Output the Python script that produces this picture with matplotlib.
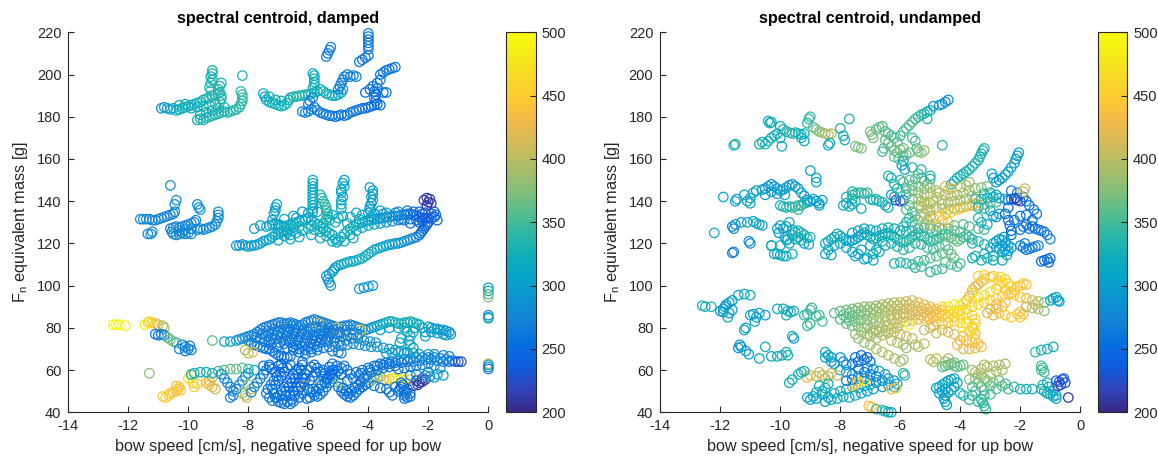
import numpy as np
import matplotlib
matplotlib.use("Agg")
import matplotlib.pyplot as plt
from matplotlib.colors import LinearSegmentedColormap, Normalize
from matplotlib.cm import ScalarMappable

plt.rcParams['font.family'] = ['Liberation Sans', 'DejaVu Sans']

# ---------------- data: (bow speed, equivalent mass, spectral centroid) ----------------
damped_top_left = [
(-10.9,184,290),(-10.8,184.5,295),(-10.7,184,300),(-10.6,183.5,305),(-10.5,184,310),(-10.4,183,315),(-10.3,183.5,318),
(-10.2,184,320),(-10.1,184.5,320),(-10.0,185,320),(-9.9,185.5,322),(-9.8,186,325),(-9.7,186.5,325),(-9.6,187,328),
(-9.5,188,330),(-9.4,188.5,330),(-9.3,189,332),(-9.2,190,335),(-9.1,190.5,335),(-9.0,191,333),(-9.25,192.5,335),
(-9.3,194,338),(-9.25,196,335),(-9.2,197.5,332),(-9.25,199,330),(-9.2,200.5,328),(-9.2,202,325),
(-10.3,185.5,318),(-10.1,186,320),(-9.9,184,318),(-9.7,184.5,320),(-9.5,185,322),(-9.3,185.5,325),(-9.1,186,328),
(-8.95,187,330),(-8.9,188.5,332),(-8.9,190,335),(-8.95,191.5,335),(-9.0,193,335),(-8.95,194.5,333),(-8.9,196,330),
(-9.7,178.5,325),(-9.6,179,325),(-9.5,178.5,328),(-9.4,179.5,328),(-9.3,180,330),(-9.2,180.5,330),(-9.1,181,330),
(-9.0,181.5,330),(-8.9,182,332),(-8.8,182.5,333),(-8.7,182,333),(-8.6,182.5,335),(-8.5,183,335),(-8.4,183.5,335),
(-8.3,184.5,335),(-8.25,186,338),(-8.2,187.5,340),(-8.2,189,342),(-8.2,190.5,342),(-8.25,192,340),(-8.2,199.5,330),
(-9.6,181,320),(-9.4,182,322),(-9.2,183,325),(-9.0,184,328),(-8.8,184.5,330),
]

damped_top_mid = [
(-7.5,191,315),(-7.45,189.5,315),(-7.4,188,318),(-7.3,187,320),(-7.2,186.5,320),(-7.1,186,322),(-7.0,185.5,325),
(-6.9,185,325),(-6.8,185.5,325),(-6.7,186.5,328),(-6.65,188,330),(-6.6,189,330),(-6.5,189.5,332),(-6.4,189.5,332),
(-6.3,190,332),(-6.2,190,330),(-6.1,190.5,330),(-6.0,190.5,330),(-5.9,191,330),(-5.8,191.5,328),(-5.7,192,328),
(-5.6,193,328),(-5.5,192,325),(-5.4,191,322),(-5.3,190.5,320),(-5.2,190,318),(-5.1,190,315),(-5.0,190.5,312),
(-4.9,191.5,308),(-4.85,193,300),(-7.3,189.5,318),(-7.1,188,320),(-6.9,187.5,322),
(-5.85,193.5,325),(-5.8,195,325),(-5.8,196.5,322),(-5.8,198,320),(-5.8,199.5,318),(-5.85,200.5,318),
(-6.2,182.5,270),(-6.1,182,270),(-6.0,182.5,268),(-5.9,183.5,268),(-5.8,184.5,265),(-5.7,183,265),(-5.6,182,265),
(-5.5,181.5,262),(-5.4,181,262),(-5.3,180.5,262),(-5.2,180.5,262),(-5.1,180,262),(-5.0,180.5,262),(-4.9,181,262),
(-4.8,180.5,262),(-4.7,181,262),(-4.6,182,262),(-4.5,182.5,262),(-4.4,183,262),(-4.3,183.5,260),(-4.2,184,260),
(-4.1,184,258),(-4.0,184.5,255),(-3.9,185,255),(-3.8,185.5,252),(-3.7,186,250),(-3.6,185.5,250),(-3.75,187.5,252),
(-3.8,189,252),(-3.75,190.5,250),(-3.8,192,250),(-3.7,193.5,252),(-3.5,191.5,255),(-3.4,191.5,258),(-4.1,191.5,255),
(-3.95,193,255),(-3.85,194.5,258),(-3.7,196,260),(-3.6,197.5,262),(-6.0,186,270),(-5.95,187.5,270),(-5.85,189,270),
(-5.0,193,268),(-4.95,194.5,268),(-4.9,196,268),(-4.85,197.5,268),(-4.8,199,268),(-4.7,200,270),(-4.6,199,272),
(-4.5,199.5,272),(-4.4,199,272),
(-5.4,208.5,265),(-5.35,210,265),(-5.3,211.5,265),(-5.25,213,265),
(-4.3,206,262),(-4.2,207,262),(-4.1,208,262),(-4.0,209,262),
(-4.0,212,265),(-4.0,213.5,265),(-4.0,215,265),(-4.0,216.5,265),(-4.0,218,265),(-4.0,219.5,265),
(-3.6,200,262),(-3.5,201,262),(-3.4,202,262),(-3.3,202.5,262),(-3.2,203,262),(-3.1,203.5,262),
]

damped_mid_left = [
(-11.6,131.5,280),(-11.5,131.5,280),(-11.4,131.5,278),(-11.3,131.5,278),(-11.2,131,278),(-11.1,131,275),(-11.0,131.5,275),
(-10.9,132,275),(-10.8,132.5,275),(-10.7,133,275),(-10.6,133.5,275),(-10.5,134,275),(-10.45,135,275),
(-10.6,147.5,285),(-10.4,140.5,285),(-10.45,138.5,285),(-11.35,124.5,280),(-11.25,124.5,280),(-11.2,125.5,280),
(-10.6,127,278),(-10.55,125.5,278),(-10.5,124.5,278),(-10.4,124,278),(-10.3,124.5,278),(-10.2,125,278),(-10.1,124.5,278),
(-10.0,125,278),(-9.9,124.5,278),(-10.5,127.5,275),(-10.4,128,275),(-10.3,127.5,275),(-10.2,128,275),(-10.1,128.5,275),
(-10.0,129,275),(-9.9,129.5,275),(-9.8,130,275),(-9.75,131,275),(-9.7,126.5,278),(-9.6,127,278),(-9.5,126.5,278),
(-9.4,127,278),(-9.3,127.5,278),(-9.2,128,278),(-9.1,129,278),(-9.05,130.5,280),(-9.0,132,280),(-9.0,133.5,280),
(-9.0,135,280),(-9.7,138.5,285),(-9.65,137,285),(-9.6,136,285),(-10.3,126,275),(-10.1,126.5,275),(-9.9,127,275),
]

damped_mid_main = [
(-8.4,119,290),(-8.3,119,290),(-8.2,119.5,292),(-8.1,119,292),(-8.0,118.5,295),(-7.9,119,295),(-7.8,119,298),
(-7.7,119.5,298),(-7.6,120,300),(-7.5,121,300),(-7.4,121.5,302),(-7.3,122,305),(-7.2,123,305),(-7.1,124,308),
(-7.0,124.5,310),(-6.9,125.5,310),(-6.8,126,312),(-6.7,126.5,315),(-6.6,127,318),(-6.5,127.5,318),
(-7.4,128,305),(-7.3,128.5,305),(-7.2,129,305),(-7.1,129,308),(-7.0,129,310),(-6.9,128.5,312),(-6.8,128,315),
(-6.7,128.5,318),(-6.6,129,320),(-6.5,129.5,320),(-6.4,130,318),(-6.3,130.5,315),(-6.2,131,312),(-6.1,131.5,310),
(-6.0,132,310),(-5.9,131,312),(-5.8,130,315),(-5.7,129,318),(-5.6,128,320),(-5.5,127,322),(-5.4,126,322),
(-5.3,125,320),(-5.2,124,318),(-5.1,122,315),(-5.05,120.5,312),(-5.0,121.5,312),(-4.9,123,315),(-4.8,124.5,318),
(-4.7,126,320),(-4.6,127,322),(-4.5,128,322),(-4.4,129,320),(-4.3,129.5,318),(-4.2,130,315),(-4.1,130.5,312),
(-4.0,131,310),(-3.9,131,305),(-3.8,131.5,300),(-3.7,131.5,298),(-3.6,132,295),(-3.5,132,292),(-3.4,132.5,290),
(-3.3,132.5,288),(-3.2,133,285),(-3.1,133,282),(-3.0,133,280),(-2.9,133.5,275),(-2.8,133.5,270),(-2.7,134,265),
(-2.6,134,260),(-2.5,133.5,255),(-2.4,133,250),(-2.3,132.5,245),(-2.2,132,240),(-2.1,132,235),(-2.0,132,230),
(-1.9,132,232),(-1.8,132.5,240),(-1.75,133.5,250),(-1.8,135,255),(-1.9,134,240),
(-6.8,123.5,310),(-6.6,124,312),(-6.4,125,315),(-6.2,126,318),(-6.0,127,320),(-5.8,126.5,322),(-5.6,125.5,322),
(-5.4,123.5,318),(-5.2,121,315),(-4.6,124,318),(-4.4,126,320),(-4.2,127.5,318),(-4.0,128.5,312),(-3.8,129,305),
(-3.6,129.5,298),(-3.4,130,290),(-3.2,130.5,285),(-3.0,131,278),(-2.8,131,270),(-2.6,131.5,260),(-2.4,131,250),
(-2.2,130.5,240),(-2.0,130,232),(-2.5,135,255),(-2.3,135,245),(-2.1,134.5,235),(-3.0,135,280),(-3.4,134.5,290),
(-3.8,134,300),(-4.2,133.5,310),(-4.6,132.5,318),(-5.0,132,320),(-5.4,131.5,320),(-6.4,132,310),(-6.8,131.5,308),
(-7.2,131,305),(-7.6,128.5,300),(-7.8,127,298),(-6.2,135,300),(-6.0,134.5,300),(-5.7,135,305),
(-2.05,138,215),(-2.0,139.5,212),(-1.95,141,210),(-2.05,141.5,210),(-2.15,140.5,212),(-1.9,139,215),
(-7.15,134,300),(-7.1,135.5,300),(-7.1,137,300),(-7.05,138.5,300),
(-5.85,135,310),(-5.85,136.5,310),(-5.85,138,310),(-5.85,139.5,310),(-5.85,141,310),(-5.85,142.5,310),(-5.85,144,310),
(-5.85,145.5,310),(-5.85,147,310),(-5.85,148.5,310),(-5.85,150,310),
(-5.6,143,330),(-5.55,141.5,332),(-5.5,140,335),(-5.45,138.5,335),(-5.4,137,338),(-5.4,135.5,338),(-5.35,134,335),
(-5.35,132.5,332),(-5.3,131,330),
(-4.85,133,305),(-4.9,136.5,308),(-4.9,138.5,308),(-4.9,140.5,308),(-4.85,142,308),(-4.9,144,308),(-4.9,145.5,308),
(-4.8,147,308),(-4.85,148.5,308),(-4.8,150,308),
(-4.0,134.5,300),(-3.95,136,300),(-3.95,137.5,300),(-3.9,139,300),(-3.85,140.5,300),(-3.9,142,300),(-3.85,143.5,300),
(-3.85,145,300),(-3.95,146.5,300),(-3.8,134,300),
(-5.25,100,290),(-5.3,101.5,290),(-5.35,103,292),(-5.4,104.5,295),(-5.3,105.5,298),(-5.2,106.5,300),(-5.15,107.5,300),
(-5.1,108.5,302),(-5.0,109.5,305),(-4.9,110,308),(-4.8,110.5,310),(-4.7,111,312),(-4.6,111.5,315),(-4.5,111.5,315),
(-4.4,112,318),(-4.3,112.5,318),(-4.2,113,320),(-4.1,114,320),(-4.0,115,318),(-3.9,116,315),(-3.8,117,312),
(-3.7,117.5,310),(-3.6,118,308),(-3.5,118.5,305),(-3.4,119,302),(-3.3,119.5,300),(-3.2,119.5,298),(-3.1,120,295),
(-3.0,120,292),(-2.9,120.5,290),(-2.8,121,288),(-2.7,121.5,285),(-2.6,122,280),(-2.5,122.5,275),(-2.4,123,270),
(-2.3,124,265),(-2.25,125,260),(-2.2,126,255),(-2.15,127,250),(-2.1,128,245),(-2.05,129,240),
(-4.3,98.5,290),(-4.15,99,290),(-4.0,99.5,290),(-3.85,100,290),
]

damped_mid_fill = [
(-7.0,127,308),(-6.7,125,312),(-6.3,128,316),(-5.9,128.5,318),(-5.5,129.5,322),(-5.1,130,320),(-4.7,129.5,320),
(-4.3,131.5,315),(-3.9,132.5,305),(-3.5,134,295),(-3.1,134.5,285),(-2.7,135.5,265),(-6.5,133,310),(-5.2,133.5,318),
(-4.4,134.5,312),(-3.6,135.5,300),(-2.9,131.5,275),(-2.3,130,240),(-2.2,134,238),(-1.7,131,245),(-2.6,129.5,255),
(-7.0,121.5,305),(-6.6,122,310),(-6.3,123,312),(-5.9,124,318),(-5.6,122.5,320),(-4.8,121,315),(-4.5,122.5,318),
]

damped_zero_speed = [
(0,99,300),(0,97.5,320),(0,96,350),(0,94.5,380),(0,86,280),(0,85,290),(0,84.5,330),
(0,63,420),(0,62.5,300),(0,61.5,280),(0,60.5,270),
]

damped_low_left = [
(-12.5,81.5,495),(-12.4,81.5,495),(-12.3,81.5,495),(-12.1,81,490),
(-11.45,81.5,480),(-11.35,82.5,470),(-11.3,83,460),(-11.2,82.5,455),(-11.1,82,440),(-11.0,81.5,420),(-10.85,81,395),
(-10.8,80,390),(-11.1,77,260),(-11.0,76.5,258),(-10.9,77,262),(-10.8,76.5,265),(-10.7,75.5,360),(-10.6,74.5,370),
(-10.5,73.5,365),(-10.4,73,350),(-10.2,72,275),(-10.1,71,270),(-10.0,70,268),(-10.1,69,268),(-9.95,71.5,272),
(-9.9,69.5,270),(-10.3,70,272),(-11.3,58.5,380),(-9.2,74,360),
(-8.8,73.5,305),(-8.6,73.5,300),(-8.4,74,295),(-8.3,74.5,290),(-8.2,75,285),(-8.1,75.5,280),(-8.0,76,278),
(-10.85,47.5,450),(-10.75,47,455),(-10.65,48,450),(-10.6,49,445),(-10.5,49.5,440),(-10.4,50,435),(-10.35,51,440),
(-10.3,52,445),(-10.4,52.5,440),(-10.25,50.5,445),(-10.0,56,470),(-9.9,57.5,465),(-9.85,54,460),(-9.7,53.5,450),
(-9.8,52,455),(-9.4,54,430),(-9.3,53,440),(-9.2,52,430),(-9.3,55,420),(-9.1,51,410),(-9.2,56.5,400),
(-9.9,58,330),(-9.8,58.5,325),(-9.6,59,320),(-9.4,59,320),(-9.2,58.5,325),(-9.0,59.5,345),(-8.8,60,360),
(-8.6,60.5,365),(-8.4,60.5,365),(-8.2,61,360),(-8.0,60.5,340),(-7.8,60,320),
(-8.9,58,280),(-8.8,56,278),(-8.7,54,275),(-8.6,52,272),(-8.5,50,270),(-8.5,48,268),(-8.6,47,268),(-8.4,51,270),
(-8.3,53,275),(-8.2,55,280),(-8.1,57,290),(-8.0,58.5,300),(-8.0,53,390),(-7.9,51,395),(-8.1,48,400),(-8.05,47,410),
(-8.2,49,380),(-7.9,49.5,280),(-7.8,52,275),(-7.7,54,270),(-7.6,56,268),(-7.5,58,265),(-7.4,60,262),(-7.3,61.5,260),
(-7.2,60.5,258),(-7.1,59,255),
]

damped_low_band = [
(-7.4,49,262),(-7.3,47,262),(-7.2,45.5,265),(-7.1,47,262),(-7.0,45,262),(-6.9,44.5,262),(-6.8,44,262),(-6.7,45,262),
(-6.6,44,265),(-6.5,45,262),(-7.2,51,258),(-7.1,53,255),(-7.0,55,252),(-6.9,57,250),(-6.8,59,250),(-6.7,61,250),
(-6.6,62.5,250),(-6.9,50,255),(-6.8,52,252),(-6.7,54,250),(-6.6,56,250),(-6.5,58,250),(-6.4,60,250),(-6.6,48,255),
(-6.5,50,252),(-6.4,52,250),(-6.3,54,250),(-6.2,56,250),(-6.3,47,258),(-6.2,49,255),(-7.0,62,255),(-6.9,63,255),
(-7.3,62.5,258),(-7.5,62,262),(-6.15,52.5,440),
(-6.0,51,258),(-5.9,49.5,258),(-5.8,48,258),(-5.7,47.5,258),(-5.6,48.5,258),(-5.5,50,258),(-5.4,52,258),(-5.3,54,255),
(-5.2,56,255),(-5.1,58,255),(-5.0,59.5,255),(-4.9,61,255),(-4.8,62,258),(-6.1,58,255),(-6.0,60,252),(-5.9,61.5,252),
(-5.8,62.5,252),(-5.7,61,252),(-5.6,59,252),(-5.5,57,252),(-5.4,55.5,252),(-5.3,57.5,255),(-5.5,60,255),(-5.2,60,255),
(-5.0,52,258),(-4.9,50,258),(-4.8,48.5,258),(-4.7,47.5,258),(-4.6,47,258),(-4.5,48,258),(-4.4,49.5,258),(-4.3,51,258),
(-4.2,52,258),(-4.1,53,255),(-4.0,54,255),(-5.6,54,345),(-5.0,54,360),(-4.9,53.5,380),(-6.3,61,262),(-6.2,62.5,262),
(-6.2,64,262),(-5.2,63,262),(-5.3,61.5,255),
(-3.9,55,380),(-3.8,56,375),(-3.7,56.5,370),(-3.6,57,365),(-3.8,57.5,380),(-3.5,55.5,400),(-3.4,55,420),(-3.3,55.5,440),
(-3.2,56,460),(-3.1,56,480),(-3.0,55.5,490),(-2.9,56,480),(-2.8,55,470),(-2.6,55.5,420),
(-4.4,59,262),(-4.2,60,260),(-4.0,61,258),(-3.8,62,258),(-3.6,63,258),(-3.4,63.5,258),(-3.2,64,260),(-3.0,64.5,262),
(-2.8,65,265),(-2.6,65.5,268),(-2.4,66,270),(-2.2,66,272),(-2.0,66,275),(-1.8,66,275),(-1.6,65.5,272),(-1.4,65,268),
(-1.2,64.5,255),(-1.1,64,240),(-1.0,64,230),(-0.9,64,230),
(-3.9,59,258),(-3.7,60,258),(-3.5,61,258),(-3.3,61.5,258),(-3.1,62,260),
(-2.9,52,255),(-2.8,50,255),(-2.8,48,258),(-2.7,47,258),(-2.9,54,255),(-3.0,50,258),(-2.6,49,260),(-3.1,52,262),
(-2.4,55,215),(-2.3,54,212),(-2.2,54.5,210),(-2.35,53,210),(-2.5,52.5,215),(-2.1,55.5,212),(-2.2,56,215),
(-1.8,56.5,300),(-1.95,57,290),(-2.1,57.5,285),(-2.6,57.5,280),(-2.4,58,280),
(-4.3,57.5,265),(-4.5,56,262),(-4.7,55,260),
]

damped_low_band_fill = [
(-7.35,51,262),(-7.25,53,260),(-7.15,55,258),(-7.05,57,255),(-6.95,59,252),(-6.85,61,252),(-7.15,49,262),(-7.05,47,262),
(-6.95,48,258),(-6.85,46,262),(-6.75,48,258),(-6.75,50,255),(-6.65,52,252),(-6.55,54,250),(-6.45,56,250),(-6.35,58,250),
(-6.25,60,250),(-6.55,46,260),(-6.45,48,258),(-6.35,50,255),(-6.25,52,252),(-6.15,54,250),(-6.1,56,252),(-6.05,46.5,258),
(-5.95,47,258),(-5.85,51,258),(-5.75,50,258),(-5.65,51,258),(-5.55,53,255),(-5.45,54,255),(-5.35,56,255),(-5.25,58,255),
(-5.15,60,255),(-5.05,62,255),(-5.95,55,255),(-5.85,57,255),(-5.75,59,255),(-5.45,58.5,255),(-4.85,51.5,258),
(-4.75,50,258),(-4.65,49,258),(-4.55,50,258),(-4.45,51.5,258),(-4.35,53,258),(-4.25,54.5,258),(-4.15,56,258),
(-4.05,57.5,258),(-4.6,58,262),(-4.7,60,260),(-4.9,58,258),(-4.25,58.5,262),(-3.95,60,258),
(-3.7,62,258),(-3.5,62.5,258),(-3.3,63,258),(-3.1,63.5,260),(-2.9,63.5,262),(-2.7,64,265),(-2.5,64,268),(-2.3,64.5,270),
(-2.1,65,272),(-1.9,65,272),(-1.7,64.5,270),(-1.5,64,262),(-1.3,64,250),(-3.0,60.5,262),(-2.8,61,262),(-2.6,61.5,265),
(-2.4,62,268),(-2.2,62.5,270),(-2.0,63,272),(-1.8,62,275),(-1.6,61,280),(-2.0,59,282),(-1.7,58,290),(-1.5,57.5,295),
(-2.95,51,258),(-2.85,53,256),(-2.75,49,258),(-2.7,51,258),(-2.6,47.5,260),(-2.8,46.5,262),
(-3.8,52.5,258),(-3.6,51.5,258),(-3.4,51,258),(-3.3,49.5,258),(-3.2,48,258),
]

damped_low_upper = [
(-8.0,74,275),(-7.9,73,272),(-7.8,72,270),(-7.7,71.5,268),(-7.6,71,265),(-7.5,70.5,265),(-7.4,70,262),(-7.3,70,262),
(-7.2,69,260),(-7.1,68,260),(-7.0,67,258),(-6.9,66.5,258),(-6.8,66,258),(-6.7,66,258),(-6.6,66.5,258),
(-7.9,76.5,275),(-7.8,77,272),(-7.7,78,270),(-7.6,79,268),(-7.5,80,268),(-7.4,80.5,268),(-7.3,81,268),(-7.2,81.5,270),
(-7.1,82,270),(-7.0,82.5,270),(-6.9,82.5,270),(-6.8,82,270),(-6.7,82,270),(-6.6,82.5,272),(-6.5,82,272),(-6.4,81.5,272),
(-6.3,81,272),(-6.2,81.5,272),(-6.1,82.5,272),(-6.0,83,272),(-5.9,83.5,272),(-5.8,84,270),(-5.7,83.5,270),(-5.6,83,268),
(-5.5,82.5,268),(-5.4,82,268),(-5.3,81.5,268),(-5.2,81,268),(-5.1,80.5,270),(-5.0,80,272),(-4.9,80.5,272),(-4.8,81,272),
(-4.7,81,272),(-4.6,81.5,272),(-4.5,81,272),(-4.4,80.5,275),(-4.3,80,278),(-4.2,79.5,280),(-4.1,79,282),(-4.0,79.5,285),
(-3.9,80,290),(-3.8,80.5,295),(-3.7,81,300),(-3.6,81.5,305),(-3.5,82,310),(-3.4,82.5,315),(-3.3,83,318),(-3.2,83,320),
(-3.1,82.5,322),(-3.0,82,322),(-2.9,82,322),(-2.8,82.5,322),(-2.7,82.5,320),(-2.6,83,320),(-2.5,82.5,318),(-2.4,82,318),
(-2.3,81.5,315),
(-7.6,75,268),(-7.4,76,268),(-7.2,77,268),(-7.0,78,268),(-6.8,79,268),(-6.6,79.5,268),(-6.4,79,268),(-6.2,78.5,268),
(-6.0,78,268),(-5.8,78,268),(-5.6,78.5,268),(-5.4,79,268),(-5.2,78,268),(-7.3,73.5,265),(-7.1,74.5,265),(-6.9,75.5,265),
(-6.7,76,265),(-6.5,76,265),(-6.3,75.5,265),(-6.1,75,265),(-5.9,75,265),(-5.7,75.5,265),(-5.5,76,265),(-5.3,76,265),
(-5.1,75.5,268),(-4.9,76,270),(-4.7,76.5,272),(-4.5,77,275),(-4.3,77,278),(-6.8,72.5,262),(-6.6,73,262),(-6.4,72,262),
(-6.2,71.5,262),(-6.0,71,262),(-5.8,72,262),(-5.6,73,262),(-5.4,73.5,262),(-6.5,69.5,260),(-6.3,68.5,260),(-6.1,67.5,260),
(-5.9,68.5,262),(-5.7,69.5,265),(-5.5,70.5,268),(-5.3,71,270),(-5.1,71,272),(-4.9,71.5,275),(-4.7,72,278),(-4.5,72.5,280),
(-4.3,72,282),(-4.1,71.5,285),(-3.9,71,288),(-3.7,71,290),(-3.5,70.5,292),(-3.3,70,295),(-3.1,69.5,298),(-2.9,69,298),
(-2.7,68.5,298),(-2.5,68,298),(-5.2,69,265),(-5.0,68.5,268),(-4.9,68,270),
(-2.45,80,318),(-2.5,78,315),(-2.6,76,312),(-2.65,74,310),(-2.6,72,308),(-2.5,70.5,305),
(-2.2,80,310),(-2.0,80.5,305),(-1.9,80,300),(-1.8,79.5,298),(-1.7,79.5,298),(-1.6,79,295),(-1.5,79,295),(-1.4,78.5,292),
(-1.3,78,290),(-1.25,77,290),(-2.1,78,305),(-1.9,78,300),(-1.7,77.5,298),(-1.5,77,295),(-1.4,76.5,292),(-2.1,76,302),
(-3.4,68,300),(-3.2,68,300),(-3.0,68.5,300),(-2.8,68,298),(-2.0,67.5,290),(-1.8,67.5,285),(-1.5,67,280),(-1.3,66.5,275),
(-2.3,67.5,292),
(-5.65,82,390),(-5.05,80,420),(-4.25,79,440),(-8.1,69.5,395),(-7.85,68.5,420),(-8.0,68,400),
]

damped_low_upper_fill = [
(-7.75,75.5,268),(-7.55,77,268),(-7.35,78.5,268),(-7.15,79.5,268),(-6.95,80.5,268),(-6.75,80.5,268),(-6.55,81,270),
(-6.35,80,270),(-6.15,79.5,270),(-5.95,80,270),(-5.75,80.5,270),(-5.55,80.5,268),(-5.35,80,268),(-5.15,79,268),
(-4.95,78,270),(-4.75,79,272),(-4.55,79,275),(-7.45,73.5,265),(-7.25,75,265),(-7.05,76.5,265),(-6.85,77.5,265),
(-6.65,78,265),(-6.45,77.5,265),(-6.25,77,265),(-6.05,76.5,265),(-5.85,76.5,265),(-5.65,77,265),(-5.45,77.5,265),
(-5.25,77.5,265),(-5.05,77,268),(-6.95,73,262),(-6.75,74,262),(-6.55,74.5,262),(-6.35,74,262),(-6.15,73,262),
(-5.95,73,262),(-5.75,74,262),(-5.55,74.5,262),(-5.35,74.5,265),(-5.15,73.5,268),(-4.95,73.5,272),(-4.75,74,275),
(-4.55,75,278),(-4.35,75,280),(-4.15,74,282),(-3.95,73.5,285),(-3.75,73,288),(-6.7,70.5,260),(-6.5,71,260),
(-6.3,70,260),(-6.1,69.5,260),(-5.9,70,262),(-5.7,71,262),(-7.05,71,262),(-7.25,72,262),
(-3.6,79,300),(-3.3,80,310),(-3.0,80,318),(-2.8,80,320),(-2.7,78,315),(-2.9,75,310),(-2.95,73,305),
]

undamped_top = [
(-10.4,178,320),(-10.35,177,320),(-10.3,177.5,322),(-10.5,167,335),(-10.4,168.5,335),(-10.3,170,330),(-10.2,171,325),
(-10.1,172,320),(-10.0,170,315),(-9.95,166,310),(-10.0,175.5,325),(-9.9,174,330),(-9.8,173,332),(-9.7,172.5,335),
(-9.6,172,335),(-9.5,172.5,332),(-9.4,172,330),(-9.3,171.5,328),(-9.2,172,325),(-9.3,170,320),(-9.2,168.5,315),
(-9.1,177,340),(-9.05,179,342),(-9.0,180,345),(-8.9,175,355),(-8.8,174,365),(-8.7,173,375),(-8.6,172.5,385),
(-8.5,172,390),(-8.4,171.5,395),(-8.3,172,395),(-8.4,166.5,320),(-8.35,167.5,320),(-8.0,174.5,330),(-7.9,171,320),
(-7.85,169,320),(-7.7,179,330),(-10.7,167,320),(-10.6,168,325),(-11.55,166.5,330),(-11.5,167,330),
(-7.5,166,370),(-7.4,165.5,375),(-7.3,165,372),(-7.0,173,370),(-6.95,171.5,372),(-6.9,170,370),(-6.8,174,365),
(-6.7,175,360),(-6.6,175.5,355),(-6.5,173,360),(-6.4,172,358),(-6.3,171,355),(-6.2,170,350),(-6.1,168,350),
(-6.5,169,360),(-6.4,167.5,362),(-6.3,166,365),(-6.2,164,368),(-6.1,163,370),(-6.0,164.5,372),(-5.9,165,368),
(-6.6,163.5,350),(-6.55,165,355),(-6.0,171,350),(-5.9,173,352),(-5.8,174.5,355),(-5.7,176,355),(-5.6,177.5,355),
(-5.5,179,350),(-5.4,180,345),(-5.3,181,340),(-5.2,181.5,335),(-5.1,182.5,330),(-5.0,183,325),(-5.1,179,330),
(-4.9,185,300),(-4.7,185.5,295),(-4.6,186,290),(-4.5,187,285),(-4.4,188,280),(-5.6,170,350),(-5.5,168.5,355),
(-5.45,165,360),(-5.4,163.5,362),(-5.7,163,365),(-5.8,162,368),(-6.2,161,365),(-5.3,163,380),(-5.2,164,385),
(-4.6,166.5,340),(-5.9,159,300),(-5.95,157,302),(-5.85,155,300),
(-4.1,151,330),(-4.0,152,330),(-3.9,153,330),(-3.8,154,330),(-3.7,155,330),(-3.6,156.5,330),(-3.5,158,330),
(-3.4,159.5,330),(-3.35,161,330),(-3.3,162.5,330),(-3.25,164,330),(-3.2,165,330),
(-2.8,149,300),(-2.7,150,300),(-2.6,151,300),(-2.5,152.5,300),(-2.4,154,300),(-2.3,156,300),(-2.2,158,300),
(-2.15,160,300),(-2.1,161.5,300),(-2.05,163,300),(-2.9,151,300),(-2.95,153,305),(-4.3,148,320),(-4.2,149.5,325),
]

undamped_mid = [
(-7.6,143,340),(-7.5,143.5,345),(-7.4,144,345),(-7.3,144,345),(-7.2,143.5,340),(-7.1,144,340),(-7.6,141,330),
(-7.5,140,325),(-7.0,141,330),(-6.9,140.5,330),(-6.8,141,332),(-6.7,140,330),(-6.6,139.5,330),(-6.5,138,325),
(-6.4,137,320),(-6.2,142,310),(-6.3,143,310),(-6.15,140.5,220),(-6.0,140,225),(-5.9,140.5,230),
(-7.8,142,330),(-7.9,138,320),(-7.8,139,320),(-7.7,137.5,318),(-7.6,138.5,320),(-7.3,136.5,315),(-7.6,144.5,330),
(-6.4,152,330),(-6.3,151,330),(-6.0,150,340),(-5.9,149,350),(-5.7,150,360),(-5.5,150.5,360),(-5.3,151,360),
(-5.2,149.5,365),(-5.1,148,370),(-5.0,152,330),(-5.0,150.5,340),(-5.2,146,380),(-5.0,146.5,385),(-4.8,145,390),
(-4.7,144,395),(-4.5,143,400),(-4.3,142.5,400),(-4.1,143,395),(-3.9,144,390),(-3.7,145,385),(-3.5,146,380),
(-3.3,146.5,375),(-3.1,147,370),(-4.0,146.5,395),(-3.8,147.5,395),(-3.7,149,380),(-4.3,146,420),(-4.5,147,410),
(-4.4,145.5,400),
(-5.4,141,385),(-5.3,140,395),(-5.2,139.5,400),(-5.1,138.5,400),(-5.0,139,398),(-4.9,140,395),(-5.3,137.5,400),
(-5.1,136,400),(-5.0,135.5,395),(-5.2,143,390),(-5.4,138,392),(-5.6,141,370),(-5.7,138,360),(-5.8,136,350),
(-5.6,135,355),(-5.5,133,360),(-5.7,132,340),(-5.8,130,330),(-5.9,128,330),(-5.6,130,345),(-5.4,131,370),
(-5.3,132.5,380),(-5.2,134,390),
(-4.8,137,390),(-4.6,136.5,385),(-4.4,136,380),(-4.2,136.5,385),(-4.0,137,390),(-3.8,137.5,390),(-3.6,138,385),
(-3.4,138,380),(-3.2,138.5,375),(-3.0,139,365),(-2.8,139.5,350),
(-4.9,132,440),(-4.7,133,445),(-4.5,134,450),(-4.3,135,450),(-4.1,136,445),(-3.9,137,440),(-3.7,138,435),
(-3.5,139,430),(-4.6,131,440),(-4.4,130,435),(-4.8,129,430),
(-3.5,141,330),(-3.3,141,325),(-3.1,141.5,320),(-2.9,142,315),(-2.7,141.5,310),(-2.5,141,305),(-3.2,143.5,330),
(-3.0,144,320),(-2.8,143,315),(-3.4,137,340),(-3.2,136.5,335),(-3.0,135.5,330),(-2.9,133,300),(-2.8,132.5,295),
(-2.7,134,300),
(-2.4,140.5,265),(-2.3,141,260),(-2.2,141,225),(-2.1,140.5,215),(-2.15,141.5,212),(-2.0,140,225),(-2.3,145,265),
(-2.1,144,265),(-1.9,142,260),(-1.8,140,255),(-1.7,138,255),(-1.55,136,260),(-1.45,134,262),(-1.6,131,255),
(-2.4,137,255),(-2.5,134,250),(-2.4,131,250),(-2.35,128.5,250),(-2.3,126,250),(-2.3,124,255),(-2.2,131,255),
(-2.0,133,258),(-1.8,133.5,260),(-1.6,128,255),(-1.5,127,255),(-1.4,126.5,260),(-1.3,126,262),(-1.2,125.5,265),
(-1.1,124,268),(-1.0,122,272),(-1.9,128,258),(-2.0,126.5,260),(-1.8,129,258),(-1.7,127,258),(-1.9,144.5,410),
(-1.85,146,405),
(-2.9,120,300),(-2.8,121,300),(-2.7,122,300),(-2.6,121.5,300),(-2.5,120,300),(-2.4,119,298),(-2.5,117,298),
(-2.6,116,300),(-2.7,117.5,300),(-2.8,118,300),(-2.4,116.5,298),(-2.6,119,300),(-2.3,118,295),(-2.55,123,295),
(-2.45,114.5,300),
(-2.0,119,270),(-1.9,118,268),(-1.8,117,265),(-1.7,117.5,265),(-1.6,118,265),(-1.5,118.5,268),(-1.4,119,270),
(-1.85,120,268),(-1.2,112,250),(-1.1,112.5,250),(-1.0,113,250),(-1.3,111.5,252),(-1.05,111,250),
(-3.6,113,320),(-3.5,114,322),(-3.3,112,325),(-3.1,113,325),(-2.9,112,320),(-3.2,115,325),(-2.9,114,322),
(-2.6,112,320),(-3.6,120,335),(-3.4,121,335),(-3.2,119.5,330),(-3.0,118,320),
]

undamped_mid_fill = [
(-5.8,146,360),(-5.6,145,370),(-5.4,144,380),(-5.6,147.5,355),(-5.4,147,370),(-6.1,146,330),(-6.2,148,330),
(-6.0,144,340),(-5.8,143,350),(-5.0,143.5,395),(-4.8,142,400),(-4.6,140.5,400),(-4.4,139.5,395),(-4.2,140,395),
(-4.0,140.5,390),(-3.8,141,385),(-3.6,142.5,380),(-4.6,138.5,395),(-5.0,133,395),(-5.1,131,390),(-5.2,129,385),
(-5.0,128.5,380),(-4.7,127.5,370),(-4.2,128.5,370),(-3.9,129,360),(-3.7,128,355),(-3.4,127,350),(-3.2,126.5,345),
(-3.3,130,330),(-3.1,129,320),(-3.4,132,335),(-5.3,155,340),(-5.4,153,345),(-5.6,156,340),(-6.05,160,355),
(-5.9,161.5,360),
]

undamped_band = [
(-10.0,128.5,310),(-9.9,127,305),(-10.05,125,300),(-9.85,123,300),(-9.75,122,305),(-9.6,124,320),(-9.5,125.5,325),
(-9.4,126,328),(-9.3,125,325),(-9.2,124,322),(-9.1,122.5,330),(-9.0,123,332),(-9.3,121.5,328),(-9.5,122,325),
(-9.7,120,320),(-9.8,121.5,315),(-10.1,127,305),(-10.0,119,320),(-10.3,119,320),(-10.2,115,310),(-10.0,114.5,315),
(-9.8,114,318),(-9.6,115,322),(-9.7,130,320),(-9.8,128,300),(-9.6,126.5,320),(-9.4,123,320),(-9.2,120,315),
(-9.05,119.5,312),
(-8.5,120,315),(-8.4,121,318),(-8.3,122,320),(-8.2,123,320),(-8.1,124.5,318),(-8.0,123.5,315),(-7.9,122.5,312),
(-7.8,121.5,310),(-7.7,121,305),(-7.6,121.5,300),(-7.5,122,300),(-7.4,123,305),(-7.3,124,310),(-7.2,125,315),
(-7.1,124,318),(-7.0,123,320),(-6.9,122,322),(-6.8,122.5,325),(-6.7,123.5,325),(-6.6,124,325),(-6.5,124.5,328),
(-6.4,125,330),(-6.3,124,330),(-6.2,123,330),(-6.1,122,332),(-6.0,121,335),(-5.9,120.5,335),(-5.8,121,335),
(-5.7,122,338),(-5.6,123,338),(-5.5,124,340),(-5.4,125,340),(-5.3,124,340),(-5.2,123,340),(-5.1,122,342),
(-5.0,121,345),(-4.9,121.5,345),(-4.8,122,348),(-4.7,123,350),(-4.6,124,350),(-4.5,124.5,355),(-4.4,124,360),
(-4.3,123,365),(-4.2,122,370),(-4.1,121,365),(-4.0,122,360),(-3.9,123,355),(-3.8,124,350),(-3.7,123,345),
(-3.6,122,345),
(-8.4,117,310),(-8.5,115,305),(-8.3,114.5,305),(-8.2,119,310),(-8.0,120,312),(-7.8,118,310),(-7.6,116,308),
(-7.5,114,305),(-7.4,115,305),(-7.3,117,308),(-7.6,125,300),(-7.4,126,302),(-7.2,127,305),(-7.0,126.5,308),
(-6.8,126,310),(-6.6,127,312),(-6.4,127.5,315),(-6.2,127,318),(-6.0,126,320),(-5.8,125.5,325),(-5.6,126,330),
(-5.4,127,335),(-5.2,127.5,338),(-5.0,127,340),(-4.8,126,342),(-4.6,126.5,345),(-4.4,127,350),(-4.2,126,350),
(-4.0,125.5,345),(-7.0,119,315),(-6.8,117,318),(-6.9,115,320),(-7.1,113,315),(-7.2,112.5,310),(-6.9,112,318),
(-6.7,116,320),(-6.5,119,325),(-6.3,120,325),(-6.6,121,325),(-6.1,118.5,330),(-5.9,117,335),(-5.7,118,338),
(-5.5,120,340),(-5.3,119.5,342),(-5.1,118,345),(-4.9,117.5,348),(-4.7,118.5,350),(-4.5,119,355),(-4.4,117,360),
(-4.3,115,365),(-4.2,113,368),(-4.6,115.5,365),(-4.8,114,360),(-5.0,113,355),(-5.2,112,350),(-5.4,111.5,345),
(-5.6,110,340),(-5.8,110.5,335),(-6.0,111,330),(-6.2,110.5,325),(-4.5,111,360),(-4.3,110,355),(-4.1,109,350),
(-4.6,108,350),(-4.8,107.5,345),(-5.0,106.5,340),(-4.0,110.5,350),(-5.3,109,350),(-5.5,108.5,345),
]

undamped_left = [
(-12.2,125,320),(-11.9,142,310),(-11.5,140,300),(-11.45,141,300),(-11.2,143,305),(-11.1,140,310),(-11.0,139,312),
(-11.0,141.5,310),(-10.9,144,315),(-10.8,145,305),(-10.6,145.5,300),(-10.5,146,295),(-10.4,147,290),(-10.3,148,290),
(-10.2,147,295),(-10.1,146,298),(-10.0,145,300),(-9.9,145.5,300),(-9.8,146.5,298),(-9.7,147.5,295),(-9.6,148,292),
(-9.5,147,295),(-9.4,146,298),(-9.3,144,300),(-9.2,142.5,300),(-10.5,143,300),(-10.3,144.5,298),(-10.1,143.5,298),
(-9.85,143,305),(-9.1,140.5,300),(-9.0,154.5,300),(-8.8,149,310),(-8.8,151,310),
(-10.0,138,325),(-9.9,137.5,325),(-9.8,137,330),(-9.7,137.5,335),(-9.6,137,340),(-9.5,137.5,345),(-9.4,138,345),
(-9.3,138,340),(-9.2,139,330),(-9.1,139.5,320),(-9.0,140,310),(-8.9,141,305),(-8.8,140,300),(-8.7,139,310),
(-8.6,140.5,300),(-8.7,138,300),(-9.4,136,345),
(-11.6,128,280),(-11.55,127,282),(-11.5,129,285),(-11.3,130,300),(-11.1,130,305),(-10.9,130.5,310),(-10.8,129.5,310),
(-10.7,129,310),(-10.6,128.5,312),(-10.3,119,300),(-11.05,121,280),(-11.0,120,280),(-11.6,115.5,270),(-11.55,116,270),
(-10.1,115,315),(-9.9,114,318),
]

undamped_low = [
(-12.6,90.5,330),(-12.5,90,330),(-12.3,90,330),(-12.0,88,300),(-11.9,89,300),(-11.85,90,298),(-11.8,91,298),
(-11.7,92,300),(-11.6,93,300),(-11.7,87,300),(-11.9,87.5,300),(-11.75,85,310),(-11.4,95.5,310),(-11.2,96,310),
(-11.0,95.5,310),(-11.6,88.5,300),(-11.0,86,300),(-10.9,86.5,300),(-10.8,85,305),(-10.85,83,310),(-10.7,87,305),
(-10.5,86,300),(-11.2,79,300),(-11.15,80,300),(-11.4,70.5,290),(-11.35,72,292),(-11.3,71,290),(-11.15,69,300),
(-11.05,67.5,305),(-10.7,65.5,315),(-10.5,71,320),(-10.3,66.5,320),(-10.1,66.5,320),(-9.95,67,325),(-9.8,68.5,322),
(-9.75,67,325),(-9.6,76,300),(-9.55,75,300),
(-10.1,89,320),(-9.9,89,320),(-9.75,88,320),(-9.65,87.5,320),(-9.55,88,320),(-9.8,86,320),
(-9.2,86,340),(-9.1,86.5,340),(-9.0,88.5,350),(-8.95,89.5,345),(-9.1,81,340),(-9.0,82,345),(-8.8,85.5,350),
(-8.6,83,350),(-8.7,86,345),
(-8.2,87,360),(-8.0,88,365),(-7.8,88.5,370),(-7.6,89,375),(-7.4,89.5,375),(-7.2,90,380),(-7.0,90,380),(-6.8,90.5,385),
(-6.6,91,385),(-6.4,91.5,390),(-6.2,92,395),(-6.0,92,400),(-5.8,92.5,405),(-5.6,93,420),(-5.4,92,420),(-5.2,91,425),
(-5.0,90,430),(-4.8,89,435),(-4.6,88.5,440),(-4.4,88,445),(-4.2,88,450),(-4.0,88.5,455),(-3.8,89,460),(-3.6,90,465),
(-3.4,91,460),(-3.2,92,455),(-3.0,93,450),(-2.8,94,445),(-2.6,95,445),(-2.4,96,450),(-2.2,95.5,450),(-2.0,94.5,445),
(-1.8,94,430),(-1.6,93,415),(-1.4,92.5,400),(-1.2,92,360),(-1.0,93,320),(-0.9,94,310),(-0.8,94.5,305),(-0.75,93,305),
(-0.7,92.5,300),
(-8.0,84,350),(-7.8,85,355),(-7.6,85.5,360),(-7.4,86,370),(-7.2,86.5,375),(-7.0,87,380),(-6.8,87.5,385),(-6.6,88,390),
(-6.4,88.5,395),(-6.2,89,400),(-6.0,89,405),(-5.8,89,410),(-5.6,88.5,415),(-5.4,88,420),(-5.2,87.5,425),(-5.0,87,430),
(-4.8,86,440),(-4.6,85.5,445),(-4.4,85,450),(-4.2,85,455),(-4.0,86,460),(-3.8,87,465),(-3.6,86,460),(-3.5,84,455),
(-3.5,82,450),(-3.6,80,445),
(-7.8,82,365),(-7.6,81,370),(-7.4,80.5,375),(-7.2,80,380),(-7.0,79.5,385),(-6.8,79,390),(-6.6,80,395),(-6.4,81,400),
(-6.2,82,405),(-6.0,82.5,410),(-5.8,83,415),(-5.6,83.5,420),(-5.4,84,425),(-5.2,84.5,430),(-5.0,84,435),(-4.8,83,440),
(-4.6,82,440),(-4.4,82.5,445),(-4.2,83,450),(-5.7,81.5,495),(-3.9,80.5,490),
(-7.0,76,390),(-6.8,75,395),(-6.6,76.5,395),(-6.4,77.5,400),(-6.2,78,405),(-6.0,77,410),(-5.8,76,410),(-5.6,75,405),
(-6.3,74,400),(-6.1,73,395),(-5.9,72,390),(-5.8,70.5,385),(-5.5,72,390),(-5.4,71,395),(-5.2,72.5,400),(-7.3,78,385),
(-7.5,77,380),(-7.4,75,385),(-7.2,73,380),(-7.0,72,385),(-6.8,70,390),(-6.6,68.5,395),(-6.4,67,395),(-6.2,65.5,395),
(-6.0,64,390),(-5.9,65,385),(-5.0,65,400),(-4.9,64,400),(-4.8,65.5,405),
(-4.6,79,420),(-4.4,78,420),(-4.2,77,420),(-4.8,77.5,410),(-5.0,80,410),(-5.2,79,405),(-4.9,81,420),
(-3.5,99.5,420),(-3.4,100.5,425),(-3.3,102,430),(-3.2,103,440),(-3.0,104,445),(-2.9,104.5,450),(-3.4,104.5,455),
(-3.2,105,455),(-3.6,98,420),(-3.7,95,410),(-3.8,93,430),(-3.9,91.5,470),(-3.6,92.5,480),(-3.4,94.5,475),
(-3.2,95.5,470),(-3.0,97,465),(-2.8,98.5,460),(-2.7,100,460),(-2.6,101.5,460),(-2.75,102.5,460),(-2.65,104,460),
(-2.5,103,458),(-2.4,101,455),(-2.3,99.5,450),(-2.2,98,450),(-2.1,99.5,448),(-2.0,100,445),(-1.9,101,440),
(-1.8,100.5,440),(-2.5,98,445),(-2.3,96.5,440),(-2.5,92,440),(-2.6,90,435),(-2.8,89,430),(-2.7,87,440),(-2.5,86,445),
(-2.3,85,450),(-2.1,86.5,448),(-2.0,87.5,445),(-2.0,85,440),(-1.9,86.5,440),(-2.8,91,430),(-3.0,89,420),(-3.1,87,415),
(-2.9,86,420),(-3.6,96.5,460),
(-4.0,82.5,460),(-3.8,82,465),(-3.6,81,465),(-3.7,78.5,450),(-3.5,77.5,450),(-3.9,76,440),(-3.8,74,440),(-3.6,73,440),
(-3.9,70,420),(-3.7,70,425),(-3.5,70.5,430),(-4.1,72,430),(-4.0,74,430),(-3.5,74.5,445),(-3.4,72.5,440),(-3.3,71,435),
(-3.55,79.5,455),(-4.4,90,475),(-4.2,91,480),(-4.0,90.5,470),(-4.6,90,460),(-4.3,86.5,470),(-4.1,87.5,470),
(-1.8,90,400),(-1.6,89.5,395),(-1.4,89,390),(-1.2,88,380),(-1.5,91,400),
]

undamped_low_fill = [
(-7.9,86,360),(-7.7,87,365),(-7.5,88,370),(-7.3,88,375),(-7.1,88.5,380),(-6.9,89,383),(-6.7,89.5,388),(-6.5,90,392),
(-6.3,90.5,395),(-6.1,90.5,400),(-5.9,91,405),(-5.7,91,410),(-5.5,90.5,415),(-5.3,89.5,420),(-5.1,89,425),(-4.9,88,430),
(-4.7,87,438),(-4.5,86.5,445),(-7.7,83.5,360),(-7.5,83,365),(-7.3,83.5,370),(-7.1,84,375),(-6.9,84.5,380),(-6.7,85,385),
(-6.5,85.5,390),(-6.3,86,395),(-6.1,86.5,400),(-5.9,86.5,405),(-5.7,86,410),(-5.5,86,415),(-5.3,86,420),(-5.1,85.5,425),
(-4.9,85,430),(-7.1,81.5,380),(-6.9,82,385),(-6.7,82.5,390),(-6.5,83,395),(-6.3,84,400),(-6.1,84.5,405),(-5.9,85,410),
(-6.9,77.5,390),(-6.7,78,392),(-6.5,78.5,395),(-7.1,77,388),(-6.3,79.5,400),(-6.1,80,405),
]

undamped_bottom = [
(-8.5,68.5,310),(-8.4,67,305),(-8.3,66,300),(-8.5,66,305),(-8.3,64,300),(-8.2,63,300),(-8.0,66,290),(-7.9,64,280),
(-7.8,62.5,270),(-7.6,63,262),(-7.4,64,255),(-7.2,65,250),(-7.5,66,258),(-7.3,67,252),(-7.1,66,250),(-7.0,64,255),
(-8.0,60,300),(-7.8,59,295),(-7.6,58,290),(-7.4,57,285),(-7.2,56,280),(-7.0,55,278),(-6.8,54,280),(-6.6,55,285),
(-6.4,56,290),(-6.2,55,295),(-6.5,58,300),(-6.7,59.5,295),(-6.9,60.5,290),(-7.1,61,285),(-6.6,52,300),(-6.4,53,300),
(-6.2,52,305),(-6.1,53.5,300),(-6.9,51,300),(-7.1,50,305),(-7.3,49,310),(-7.5,48,315),(-7.7,47,320),(-7.9,47.5,318),
(-8.1,46.5,315),(-8.3,46,310),(-8.5,45,305),(-8.4,47,308),(-8.6,48.5,310),(-8.2,49,315),(-8.0,50,318),(-7.8,51,320),
(-7.6,52,322),(-7.4,51.5,320),(-7.2,52.5,318),(-7.0,53,315),(-8.8,46.5,305),(-9.0,46,300),(-9.1,47,305),(-8.9,47.5,305),
(-8.7,59,410),(-8.6,57.5,400),(-8.5,56,395),(-8.4,57,400),(-8.8,57,410),(-9.0,57.5,415),(-9.1,56.5,420),(-8.3,58.5,405),
(-8.1,57.5,400),(-9.7,54,320),(-9.6,55.5,325),(-9.4,58,330),(-9.3,59,330),(-9.2,59.5,330),
(-8.6,50,330),(-8.7,52.5,320),(-8.4,53.5,315),(-8.5,51.5,320),(-8.8,49.5,325),
(-7.4,54.5,470),(-7.2,55,480),(-7.5,53.5,440),(-7.6,52.5,430),
(-7.8,55,265),(-7.6,55.5,260),(-7.4,60.5,258),(-7.2,59,262),(-7.0,58,265),(-6.8,57,270),
(-7.05,43,440),(-6.95,42.5,440),(-6.8,41.5,350),(-6.6,41,340),(-6.5,40.5,330),(-6.4,40,320),(-6.3,40,320),
(-6.15,51.5,440),(-6.3,51,430),(-5.9,58.5,340),(-5.85,57.5,340),
(-4.7,52,310),(-4.6,53,310),(-4.5,54,310),(-4.4,55,310),(-4.3,55.5,310),(-4.2,56,310),(-4.5,51,305),(-4.4,49.5,305),
(-4.5,48,300),(-4.55,46.5,300),(-4.5,45,305),(-4.45,43.5,305),(-4.6,50,305),(-4.3,50.5,310),(-4.2,52,310),(-4.1,54,310),
(-4.7,49,305),(-4.8,51.5,310),(-4.0,49,330),(-3.9,48,335),(-3.7,46,340),(-3.6,48,340),
(-4.6,61.5,360),(-4.5,62,360),(-4.4,62.5,360),(-4.3,63,360),(-4.2,62,362),(-4.1,61.5,362),(-4.0,62,362),(-3.9,62.5,362),
(-4.2,63.5,365),(-4.5,64,380),(-4.4,65.5,390),
(-3.6,60,390),(-3.5,59,395),(-3.4,58,395),(-3.3,57,390),(-3.2,56,385),(-3.1,55,380),(-3.3,60.5,392),(-3.1,61.5,395),
(-2.9,62,395),(-2.7,62.5,395),(-2.5,63,390),(-3.5,56,380),(-3.7,55.5,375),(-3.4,54,370),(-3.3,52,365),(-3.2,50.5,360),
(-3.0,52.5,360),(-2.9,54,365),(-2.7,55,370),(-3.6,52,355),(-3.5,50,350),(-3.2,48,345),(-3.3,46,340),(-3.25,44.5,340),
(-3.2,43,340),(-3.15,41.5,345),(-3.4,45,345),(-3.0,48.5,355),(-2.8,51,355),(-2.6,52.5,355),(-2.5,53.5,355),
(-2.2,52,340),(-2.0,51,330),(-1.8,51,320),(-1.6,51,320),(-2.4,51,350),(-3.0,58,390),(-2.8,59.5,392),(-2.6,60,392),
(-3.2,62.5,392),
(-1.5,68.5,340),(-1.3,69.5,330),(-1.1,70,325),(-0.9,71,320),
(-1.3,60,350),(-1.25,61,350),(-1.3,62,350),(-1.2,59,348),(-1.3,51,330),(-1.2,50,325),(-1.1,49,320),(-1.0,48.5,315),
(-0.9,47.5,310),(-0.8,46.5,305),(-1.25,53,335),(-1.1,54,330),(-1.05,52,325),(-0.9,50,318),(-0.8,48,312),
(-0.8,55,240),(-0.7,54.5,230),(-0.6,55.5,225),(-0.65,53,215),(-0.75,52.5,220),(-0.55,56,240),(-0.5,54,230),
(-0.4,47,210),
]

damped_groups = [damped_top_left, damped_top_mid, damped_mid_left, damped_mid_main, damped_mid_fill,
                 damped_zero_speed, damped_low_left, damped_low_band, damped_low_band_fill,
                 damped_low_upper, damped_low_upper_fill]
undamped_groups = [undamped_top, undamped_left, undamped_band, undamped_mid, undamped_mid_fill,
                   undamped_low, undamped_low_fill, undamped_bottom]

titles = ["spectral centroid, damped", "spectral centroid, undamped"]
xlabel = "bow speed [cm/s], negative speed for up bow"
ylabel = r"F$_{\mathregular{n}}$ equivalent mass [g]"
xticks = [-14, -12, -10, -8, -6, -4, -2, 0]
yticks = [40, 60, 80, 100, 120, 140, 160, 180, 200, 220]
cticks = [200, 250, 300, 350, 400, 450, 500]

# ---------------- parula colormap ----------------
parula_anchors = [
(0.2081, 0.1663, 0.5292), (0.1959, 0.2645, 0.7279), (0.0591, 0.3598, 0.8683), (0.0165, 0.4266, 0.8786),
(0.0779, 0.5040, 0.8384), (0.0488, 0.5772, 0.8228), (0.0231, 0.6418, 0.7913), (0.0590, 0.6838, 0.7254),
(0.1801, 0.7177, 0.6424), (0.3482, 0.7424, 0.5473), (0.5300, 0.7491, 0.4661), (0.6834, 0.7435, 0.4044),
(0.8185, 0.7327, 0.3498), (0.9450, 0.7261, 0.2886), (0.9955, 0.7861, 0.1967), (0.9697, 0.8481, 0.1475),
(0.9598, 0.9218, 0.0948), (0.9763, 0.9831, 0.0538)]
parula = LinearSegmentedColormap.from_list("parula", parula_anchors, N=256)
norm = Normalize(200, 500)

axcol = (0.15, 0.15, 0.15)
fig = plt.figure(figsize=(11.58, 4.63), dpi=100)

ax_rects = [[0.0590, 0.1095, 0.3627, 0.8207], [0.5702, 0.1095, 0.3627, 0.8207]]
cb_rects = [[0.4370, 0.1095, 0.0259, 0.8207], [0.9480, 0.1095, 0.0256, 0.8207]]

for i, groups in enumerate([damped_groups, undamped_groups]):
    pts = np.array([p for g in groups for p in g], dtype=float)
    ax = fig.add_axes(ax_rects[i])
    ax.scatter(pts[:, 0], pts[:, 1], s=46, facecolors='none',
               edgecolors=parula(norm(pts[:, 2])), linewidths=0.9, clip_on=False)
    ax.set_xlim(-14, 0)
    ax.set_ylim(40, 220)
    ax.set_xticks(xticks)
    ax.set_xticklabels([str(t) for t in xticks])
    ax.set_yticks(yticks)
    for s in ['top', 'right']:
        ax.spines[s].set_visible(False)
    for s in ['left', 'bottom']:
        ax.spines[s].set_color(axcol)
        ax.spines[s].set_linewidth(0.8)
    ax.tick_params(direction='in', length=4, width=0.8, colors=axcol, labelsize=10.5, pad=5)
    ax.set_title(titles[i], fontsize=11.7, fontweight='bold', pad=7)
    ax.set_xlabel(xlabel, fontsize=11.7, color=axcol, labelpad=4)
    ax.set_ylabel(ylabel, fontsize=11.7, color=axcol, labelpad=5)

    cax = fig.add_axes(cb_rects[i])
    cb = fig.colorbar(ScalarMappable(norm=norm, cmap=parula), cax=cax, ticks=cticks)
    cb.outline.set_edgecolor(axcol)
    cb.outline.set_linewidth(0.8)
    cax.tick_params(direction='in', length=4, width=0.8, colors=axcol, labelsize=10.5, pad=4)

fig.savefig("out.png", dpi=100)
